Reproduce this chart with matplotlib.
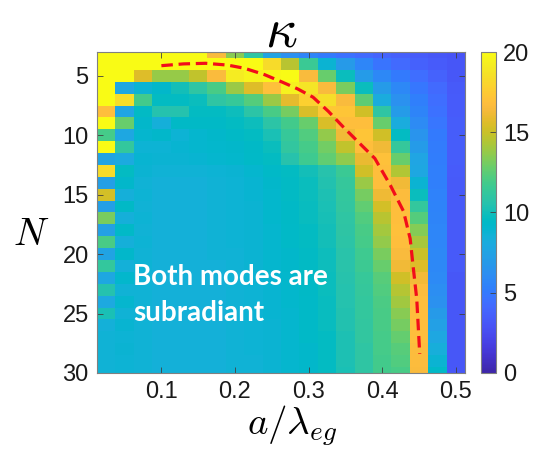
import numpy as np
import matplotlib
matplotlib.use("Agg")
import matplotlib.pyplot as plt
from matplotlib.colors import LinearSegmentedColormap

# ---------------- data ----------------
a_values = [0.025, 0.05, 0.075, 0.1, 0.125, 0.15, 0.175, 0.2, 0.225, 0.25,
            0.275, 0.3, 0.325, 0.35, 0.375, 0.4, 0.425, 0.45, 0.475, 0.5]
N_values = [3, 4, 5, 6, 7, 8, 9, 10, 11, 12, 13, 14, 15, 16, 17, 18, 19, 20,
            21, 22, 23, 24, 25, 26, 27, 28, 29, 30]

kappa = [
    [20, 20, 20, 20, 20, 20, 16.5, 13.5, 11.0, 7.5, 6.3, 5.6, 5.0, 4.6, 4.2, 3.9, 3.6, 3.4, 3.2, 3.0],
    [20, 20, 20, 20, 20, 20, 20, 20, 20, 18.3, 14.6, 11.5, 8.8, 6.9, 5.7, 4.7, 4.2, 3.7, 3.4, 3.1],
    [20, 20, 15.6, 13.8, 13.8, 14.8, 16.6, 19.2, 19.6, 19.8, 20, 16.5, 12.8, 9.8, 7.0, 5.8, 5.0, 4.4, 3.8, 3.2],
    [20, 7.8, 8.8, 9.2, 10.0, 11.0, 12.0, 13.9, 15.6, 16.9, 19.4, 18.8, 16.5, 13.2, 9.8, 7.0, 5.8, 4.9, 4.2, 3.3],
    [20, 18.5, 11.8, 9.6, 9.6, 9.8, 11.0, 11.4, 12.3, 13.9, 15.8, 17.8, 18.5, 16.5, 12.5, 8.2, 6.4, 5.3, 4.4, 3.4],
    [16.8, 7.6, 9.5, 10.5, 10.5, 9.6, 9.6, 9.9, 10.8, 12.0, 13.1, 15.4, 17.3, 17.2, 15.2, 11.0, 7.0, 5.6, 4.6, 3.4],
    [20, 12.8, 9.2, 8.4, 9.4, 9.4, 9.4, 9.6, 9.9, 10.8, 11.8, 12.8, 15.4, 16.8, 16.8, 12.8, 8.2, 6.0, 4.8, 3.5],
    [11.9, 7.8, 9.0, 9.2, 8.7, 9.0, 9.2, 9.4, 9.6, 10.2, 11.4, 12.2, 13.7, 16.2, 17.2, 15.2, 9.6, 6.5, 5.0, 3.5],
    [20, 11.2, 8.7, 8.7, 8.9, 9.0, 9.1, 9.2, 9.4, 9.8, 11.1, 11.9, 13.0, 14.8, 16.8, 16.2, 11.3, 7.0, 5.1, 3.5],
    [7.5, 8.0, 8.9, 8.8, 8.8, 8.9, 9.0, 9.1, 9.3, 9.6, 10.6, 11.7, 12.6, 13.6, 16.0, 17.0, 12.8, 7.6, 5.2, 3.5],
    [18.3, 9.6, 8.8, 8.6, 8.6, 8.6, 8.7, 8.8, 9.0, 9.3, 9.6, 10.0, 10.6, 11.5, 15.2, 16.8, 14.4, 7.8, 5.3, 3.4],
    [7.2, 9.2, 8.6, 8.5, 8.5, 8.5, 8.6, 8.7, 8.9, 9.2, 9.5, 9.8, 10.4, 11.3, 13.9, 16.8, 16.2, 8.8, 5.3, 3.3],
    [15.3, 8.4, 8.7, 8.5, 8.5, 8.5, 8.6, 8.7, 8.9, 9.1, 9.5, 9.8, 10.3, 11.2, 13.1, 16.1, 16.7, 9.8, 5.4, 3.3],
    [7.2, 9.4, 8.6, 8.5, 8.5, 8.5, 8.6, 8.7, 8.8, 9.1, 9.4, 9.7, 10.2, 11.1, 12.6, 15.3, 16.8, 11.2, 5.5, 3.3],
    [13.2, 8.4, 8.7, 8.5, 8.5, 8.5, 8.6, 8.7, 8.8, 9.1, 9.4, 9.7, 10.1, 11.0, 12.2, 14.6, 16.8, 12.3, 5.6, 3.3],
    [7.3, 9.3, 8.6, 8.5, 8.5, 8.5, 8.6, 8.7, 8.8, 9.0, 9.3, 9.6, 10.0, 10.9, 12.0, 14.1, 16.9, 13.4, 5.7, 3.3],
    [12.0, 8.4, 8.7, 8.5, 8.5, 8.5, 8.6, 8.7, 8.8, 9.0, 9.3, 9.6, 10.0, 10.8, 11.9, 13.7, 16.8, 14.2, 5.7, 3.3],
    [7.5, 9.2, 8.6, 8.5, 8.5, 8.5, 8.6, 8.6, 8.8, 9.0, 9.2, 9.5, 9.9, 10.7, 11.7, 13.2, 16.5, 15.0, 5.8, 3.3],
    [11.2, 8.5, 8.7, 8.5, 8.5, 8.5, 8.5, 8.6, 8.8, 9.0, 9.2, 9.5, 9.9, 10.7, 11.6, 12.8, 16.2, 15.6, 5.8, 3.3],
    [7.8, 9.1, 8.6, 8.5, 8.5, 8.5, 8.5, 8.6, 8.7, 8.9, 9.1, 9.4, 9.8, 10.6, 11.4, 12.4, 15.2, 16.3, 5.9, 3.2],
    [10.5, 8.6, 8.6, 8.5, 8.5, 8.5, 8.5, 8.6, 8.7, 8.9, 9.1, 9.4, 9.8, 10.5, 11.3, 12.2, 14.5, 16.7, 6.1, 3.2],
    [7.9, 9.0, 8.6, 8.5, 8.5, 8.5, 8.5, 8.6, 8.7, 8.9, 9.1, 9.3, 9.7, 10.5, 11.2, 12.1, 14.0, 16.8, 6.4, 3.2],
    [10.2, 8.6, 8.6, 8.5, 8.5, 8.5, 8.5, 8.6, 8.7, 8.9, 9.0, 9.3, 9.7, 10.4, 11.2, 12.0, 13.5, 16.8, 6.9, 3.2],
    [8.5, 8.9, 8.6, 8.5, 8.5, 8.5, 8.5, 8.6, 8.7, 8.8, 9.0, 9.3, 9.7, 10.4, 11.1, 12.0, 13.1, 16.8, 7.3, 3.2],
    [8.6, 8.7, 8.6, 8.5, 8.5, 8.5, 8.5, 8.6, 8.7, 8.8, 9.0, 9.3, 9.6, 10.3, 11.1, 11.9, 12.7, 16.8, 7.8, 3.2],
    [8.6, 8.8, 8.6, 8.5, 8.5, 8.5, 8.5, 8.6, 8.7, 8.8, 9.0, 9.2, 9.6, 10.3, 11.0, 11.9, 12.4, 16.7, 8.3, 3.2],
    [8.6, 8.7, 8.6, 8.5, 8.5, 8.5, 8.5, 8.6, 8.6, 8.8, 9.0, 9.2, 9.6, 10.3, 11.0, 11.8, 12.2, 16.7, 8.8, 3.2],
    [8.6, 8.7, 8.6, 8.5, 8.5, 8.5, 8.5, 8.6, 8.6, 8.8, 9.0, 9.2, 9.6, 10.2, 11.0, 11.8, 12.0, 16.6, 9.3, 3.2],
]

# boundary guide curve (dashed red)
curve_a = [0.100, 0.130, 0.160, 0.190, 0.213, 0.240, 0.263, 0.285, 0.306, 0.327,
           0.347, 0.368, 0.390, 0.411, 0.429, 0.438, 0.442, 0.447, 0.451]
curve_N = [4.15, 4.00, 3.95, 4.10, 4.37, 4.90, 5.50, 6.10, 6.80, 8.00,
           9.30, 10.60, 11.95, 14.20, 16.40, 18.70, 21.00, 23.80, 28.40]

colorbar_ticks = [0, 5, 10, 15, 20]
x_ticks = [0.1, 0.2, 0.3, 0.4, 0.5]
y_ticks = [5, 10, 15, 20, 25, 30]

# ---------------- parula colormap ----------------
parula_rgb = [
    (0.2422, 0.1504, 0.6603), (0.2504, 0.1650, 0.7076), (0.2578, 0.1818, 0.7511),
    (0.2647, 0.1978, 0.7952), (0.2706, 0.2147, 0.8364), (0.2751, 0.2342, 0.8710),
    (0.2783, 0.2559, 0.8991), (0.2803, 0.2782, 0.9221), (0.2813, 0.3006, 0.9414),
    (0.2810, 0.3228, 0.9579), (0.2795, 0.3447, 0.9717), (0.2760, 0.3667, 0.9829),
    (0.2699, 0.3892, 0.9906), (0.2602, 0.4123, 0.9952), (0.2440, 0.4358, 0.9988),
    (0.2206, 0.4603, 0.9973), (0.1963, 0.4847, 0.9892), (0.1834, 0.5074, 0.9798),
    (0.1786, 0.5289, 0.9682), (0.1764, 0.5499, 0.9520), (0.1687, 0.5703, 0.9359),
    (0.1540, 0.5902, 0.9218), (0.1460, 0.6091, 0.9079), (0.1380, 0.6276, 0.8973),
    (0.1248, 0.6459, 0.8883), (0.1113, 0.6635, 0.8763), (0.0952, 0.6798, 0.8598),
    (0.0689, 0.6948, 0.8394), (0.0297, 0.7082, 0.8163), (0.0036, 0.7203, 0.7917),
    (0.0067, 0.7312, 0.7660), (0.0433, 0.7411, 0.7394), (0.0964, 0.7500, 0.7120),
    (0.1408, 0.7584, 0.6842), (0.1717, 0.7670, 0.6554), (0.1938, 0.7758, 0.6251),
    (0.2161, 0.7843, 0.5923), (0.2470, 0.7918, 0.5567), (0.2906, 0.7973, 0.5188),
    (0.3406, 0.8008, 0.4789), (0.3909, 0.8029, 0.4354), (0.4456, 0.8024, 0.3909),
    (0.5044, 0.7993, 0.3480), (0.5616, 0.7942, 0.3045), (0.6174, 0.7876, 0.2612),
    (0.6720, 0.7793, 0.2227), (0.7242, 0.7698, 0.1910), (0.7738, 0.7598, 0.1646),
    (0.8203, 0.7498, 0.1535), (0.8634, 0.7406, 0.1596), (0.9035, 0.7330, 0.1774),
    (0.9393, 0.7288, 0.2100), (0.9728, 0.7298, 0.2394), (0.9956, 0.7434, 0.2371),
    (0.9970, 0.7659, 0.2199), (0.9952, 0.7893, 0.2028), (0.9892, 0.8136, 0.1885),
    (0.9786, 0.8386, 0.1766), (0.9676, 0.8639, 0.1643), (0.9610, 0.8890, 0.1537),
    (0.9597, 0.9135, 0.1423), (0.9628, 0.9373, 0.1265), (0.9691, 0.9606, 0.1064),
    (0.9769, 0.9839, 0.0805),
]
parula = LinearSegmentedColormap.from_list("parula", parula_rgb, N=256)

# ---------------- figure ----------------
plt.rcParams["font.family"] = ["Liberation Sans", "DejaVu Sans"]
plt.rcParams["mathtext.fontset"] = "cm"

fig = plt.figure(figsize=(5.58, 4.66), dpi=100)
ax = fig.add_axes([0.1738, 0.1996, 0.6595, 0.6888])
cax = fig.add_axes([0.8615, 0.1996, 0.0274, 0.6888])

a_arr = np.array(a_values)
N_arr = np.array(N_values)
da = a_arr[1] - a_arr[0]
x_edges = np.concatenate([a_arr - da / 2, [a_arr[-1] + da / 2]])
y_edges = np.concatenate([N_arr - 0.5, [N_arr[-1] + 0.5]])

mesh = ax.pcolormesh(x_edges, y_edges, np.array(kappa), cmap=parula,
                     vmin=0, vmax=20, shading="flat")
ax.plot(curve_a, curve_N, color=(0.95, 0.05, 0.1), lw=2.3, ls=(0, (3.6, 1.8)),
        solid_capstyle="butt")

ax.set_xlim(x_edges[0], x_edges[-1])
ax.set_ylim(30, 3)
ax.set_xticks(x_ticks)
ax.set_xticklabels([f"{t:g}" for t in x_ticks])
ax.set_yticks(y_ticks)
ax.tick_params(direction="in", length=4, width=0.6, colors="#404040",
               labelcolor="#1a1a1a", labelsize=17, top=True, right=True)
ax.tick_params(axis="x", pad=6)
ax.tick_params(axis="y", pad=6)
for sp in ax.spines.values():
    sp.set_color("#808080")
    sp.set_linewidth(0.8)

ax.set_title(r"$\kappa$", fontsize=40, pad=4)
ax.set_xlabel(r"$a/\lambda_{eg}$", fontsize=28)
ax.xaxis.set_label_coords(0.53, -0.095)
ax.set_ylabel(r"$N$", fontsize=28, rotation=0, va="center", ha="center")
ax.yaxis.set_label_coords(-0.18, 0.43)

ax.text(0.0614, 22.6, "Both modes are", color="white", fontsize=20,
        fontweight="bold", family=["Lato", "DejaVu Sans"], ha="left", va="baseline")
ax.text(0.0614, 25.6, "subradiant", color="white", fontsize=20,
        fontweight="bold", family=["Lato", "DejaVu Sans"], ha="left", va="baseline")

cb = fig.colorbar(mesh, cax=cax, ticks=colorbar_ticks)
cb.ax.tick_params(direction="in", length=4, width=0.6, colors="#404040",
                  labelcolor="#1a1a1a", labelsize=17, pad=5)
cb.outline.set_edgecolor("#808080")
cb.outline.set_linewidth(0.8)

fig.savefig("out.png", dpi=100)
